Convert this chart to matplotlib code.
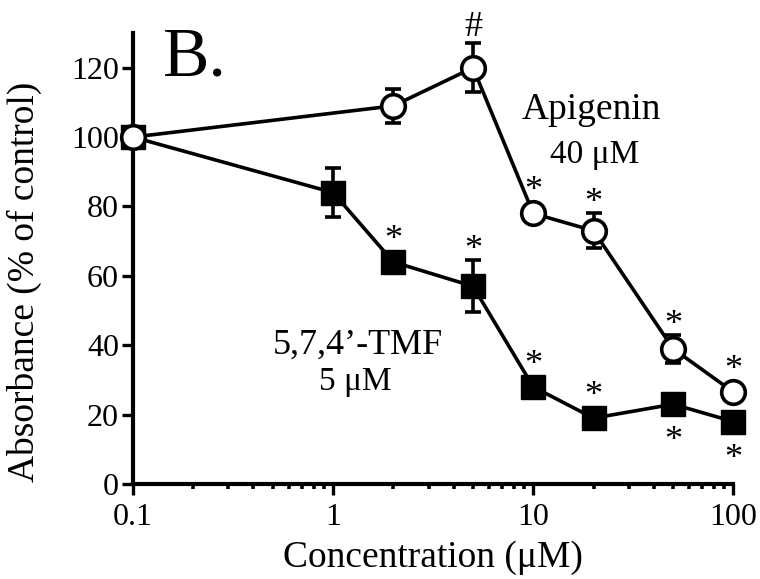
import matplotlib
matplotlib.use('Agg')
import matplotlib.pyplot as plt
from matplotlib.ticker import LogLocator, FixedLocator, NullFormatter

plt.rcParams['font.family'] = ['Liberation Serif', 'DejaVu Serif']

# Apigenin (open circles)
api_x = [0.1, 2, 5, 10, 20, 50, 100]
api_y = [100, 109, 120, 78, 73, 39, 26.5]
api_err = [0, 5, 7, 1, 5, 4, 1]
api_marks = ['', '', '#', '*', '*', '*', '*']

# 5,7,4'-TMF (filled squares)
tmf_x = [0.1, 1, 2, 5, 10, 20, 50, 100]
tmf_y = [100, 84, 64, 57, 28, 19, 23, 18]
tmf_err = [0, 7, 3, 7.5, 1, 1, 3, 1]
tmf_marks = ['', '', '*', '*', '*', '*', '*', '*']
tmf_below = [False, False, False, False, False, False, True, True]

fig = plt.figure(figsize=(7.6, 5.79), dpi=100)
ax = fig.add_axes([0.175, 0.164, 0.79, 0.779])

PX = 0.72  # points per pixel at dpi 100
UNIT_PX = 3.475  # pixels per y unit


def mark(x, y, e, m, below=False):
    # marker half-size ~12 px; place symbol just clear of marker / error bar
    top = max(e * UNIT_PX, 12)
    if below:
        ax.annotate(m, (x, y), xytext=(0, -(top + 9) * PX),
                    textcoords='offset points', ha='center', va='top',
                    fontsize=26, annotation_clip=False)
    else:
        off = top - (1 if m == '#' else 7)
        ax.annotate(m, (x, y), xytext=(0, off * PX),
                    textcoords='offset points', ha='center', va='bottom',
                    fontsize=26, annotation_clip=False)


ax.errorbar(tmf_x, tmf_y, yerr=tmf_err, color='black', lw=2.6, capsize=6,
            capthick=2.6, elinewidth=2.6, marker='s', ms=17, mfc='black',
            mec='black', zorder=3, clip_on=False)
ax.errorbar(api_x, api_y, yerr=api_err, color='black', lw=2.6, capsize=6,
            capthick=2.6, elinewidth=2.6, marker='o', ms=17, mfc='white',
            mec='black', mew=2.6, zorder=4, clip_on=False)

for x, y, e, m in zip(api_x, api_y, api_err, api_marks):
    if m:
        mark(x, y, e, m)
for x, y, e, m, b in zip(tmf_x, tmf_y, tmf_err, tmf_marks, tmf_below):
    if m:
        mark(x, y, e, m, b)

ax.text(19.5, 108, 'Apigenin', ha='center', va='center', fontsize=27)
ax.text(20.3, 95, '40 μM', ha='center', va='center', fontsize=24)
ax.text(1.33, 40, '5,7,4’-TMF', ha='center', va='center', fontsize=26)
ax.text(1.29, 29.4, '5 μM', ha='center', va='center', fontsize=24)
ax.text(0.141, 117.7, 'B.', ha='left', va='baseline', fontsize=50)

ax.set_xscale('log')
ax.set_xlim(0.1, 100)
ax.set_ylim(0, 130)
ax.set_yticks([0, 20, 40, 60, 80, 100, 120])
ax.xaxis.set_major_locator(FixedLocator([0.1, 1, 10, 100]))
ax.set_xticklabels(['0.1', '1', '10', '100'])
ax.xaxis.set_minor_locator(LogLocator(base=10, subs=range(2, 10)))
ax.xaxis.set_minor_formatter(NullFormatter())

for s in ['top', 'right']:
    ax.spines[s].set_visible(False)
for s in ['left', 'bottom']:
    ax.spines[s].set_linewidth(3)

ax.tick_params(axis='both', which='major', direction='out', length=8,
               width=2.4, labelsize=23)
ax.tick_params(axis='x', which='minor', direction='out', length=3.5, width=2.6)
ax.tick_params(axis='x', which='major', pad=6)
ax.tick_params(axis='y', which='major', pad=2)

ax.set_xlabel('Concentration (μM)', fontsize=27, labelpad=6)
ax.set_ylabel('Absorbance (% of control)', fontsize=27, labelpad=21)
ax.yaxis.label.set_y(0.448)

fig.savefig('out.png', dpi=100)
